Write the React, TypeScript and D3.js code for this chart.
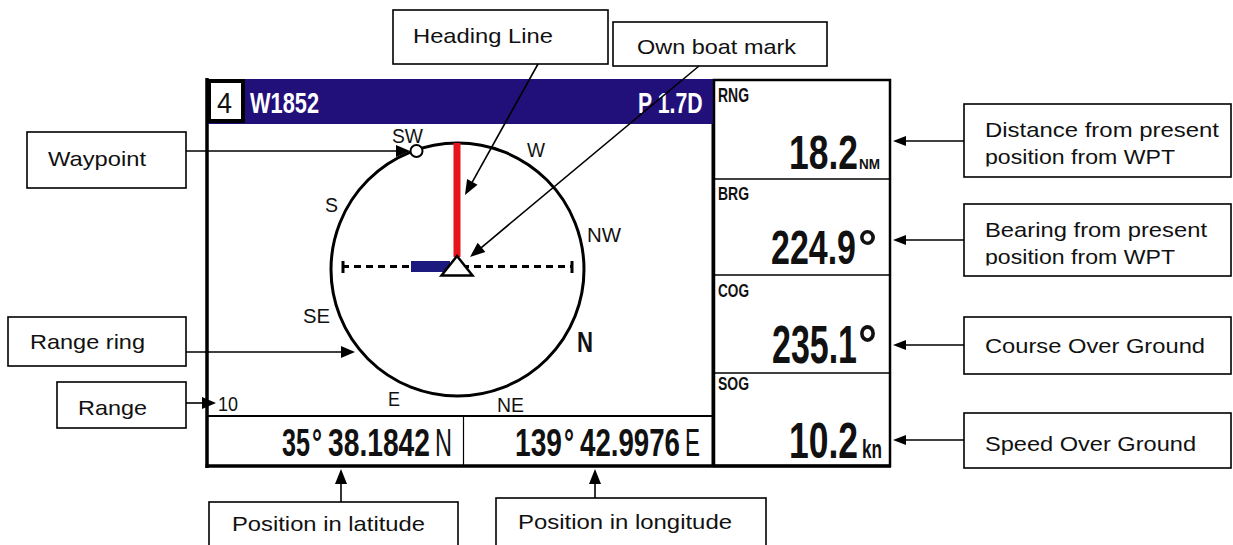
import React from "react";
import * as d3 from "d3";

// ---------- content ----------
const compassPoints = ["SW", "W", "S", "NW", "SE", "N", "E", "NE"];
const rangeValue = "10";
const headerItems = ["4", "W1852", "P 1.7D"];
const readoutLabels = ["RNG", "BRG", "COG", "SOG"];
const readoutValues = ["18.2", "224.9", "235.1", "10.2"];
const readoutUnits = ["NM", "°", "°", "kn"];
const latitudeParts = ["35", "°", "38.1842", "N"];
const longitudeParts = ["139", "°", "42.9976", "E"];
const leftCallouts = ["Waypoint", "Range ring", "Range"];
const topCallouts = ["Heading Line", "Own boat mark"];
const rightCallouts = [
  ["Distance from present", "position from WPT"],
  ["Bearing from present", "position from WPT"],
  ["Course Over Ground"],
  ["Speed Over Ground"],
];
const bottomCallouts = ["Position in latitude", "Position in longitude"];

// ---------- layout ----------
const W = 1233;
const H = 545;
const NAVY = "#22107a";
const RED = "#e8141b";
const FONT = "'Liberation Sans', Arial, Helvetica, sans-serif";
const INK = "#111";
const CALL_SIZE = 21;
const CAP = 0.716;

const measureCtx: CanvasRenderingContext2D | null =
  typeof document !== "undefined" ? document.createElement("canvas").getContext("2d") : null;

function naturalWidth(text: string, bold: boolean): number {
  if (!measureCtx) return text.length * 55;
  measureCtx.font = `${bold ? "bold " : ""}100px ${FONT}`;
  return measureCtx.measureText(text).width;
}

// condensed text: fits width w exactly, with cap height ch, by scaling vertically
function Cond(props: { x: number; y: number; text: string; w: number; ch: number; bold?: boolean; fill?: string }) {
  const { x, y, text, w, ch, bold, fill } = props;
  const nw = naturalWidth(text, !!bold);
  const fs = (100 * w) / nw;
  const sy = ch / (CAP * fs);
  return (
    <text
      transform={`translate(${x},${y}) scale(1,${sy.toFixed(4)})`}
      fontSize={fs.toFixed(3)}
      fontFamily={FONT}
      fontWeight={bold ? "bold" : "normal"}
      fill={fill || INK}
    >
      {text}
    </text>
  );
}

function CText(props: {
  x: number; y: number; text: string; size: number; w?: number;
  bold?: boolean; fill?: string;
}) {
  const { x, y, text, size, w, bold, fill } = props;
  return (
    <text
      x={x}
      y={y}
      fontSize={size}
      fontFamily={FONT}
      fontWeight={bold ? "bold" : "normal"}
      fill={fill || INK}
      {...(w ? { textLength: w, lengthAdjust: "spacingAndGlyphs" } : {})}
    >
      {text}
    </text>
  );
}

function Arrow(props: { x1: number; y1: number; x2: number; y2: number; head?: number; half?: number; sw?: number }) {
  const { x1, y1, x2, y2 } = props;
  const head = props.head ?? 13;
  const half = props.half ?? 5.5;
  const dx = x2 - x1, dy = y2 - y1;
  const L = Math.hypot(dx, dy);
  const ux = dx / L, uy = dy / L;
  const bx = x2 - ux * head, by = y2 - uy * head;
  const px = -uy, py = ux;
  const line = d3.line()([[x1, y1], [bx + ux * 1, by + uy * 1]]) || "";
  const tri = d3.line()([
    [x2, y2],
    [bx + px * half, by + py * half],
    [bx - px * half, by - py * half],
  ]) + "Z";
  return (
    <g>
      <path d={line} stroke="#000" strokeWidth={props.sw ?? 1.6} fill="none" />
      <path d={tri} fill="#000" />
    </g>
  );
}

const compassLayout = [
  { x: 392, y: 143, size: 20, w: 31 },
  { x: 527, y: 157, size: 20, w: 18 },
  { x: 325, y: 212, size: 20, w: 13 },
  { x: 587, y: 242, size: 20, w: 34 },
  { x: 303, y: 323, size: 20, w: 27 },
  { x: 577, y: 352, size: 29, w: 16, bold: true },
  { x: 388, y: 406, size: 20, w: 12 },
  { x: 497, y: 412, size: 20, w: 27 },
];

const center = { x: 457.5, y: 269.5 };
const ringR = 126.5;
const rScale = d3.scaleLinear().domain([0, 1]).range([0, ringR]);

export default function App() {
  const leftBoxes = [
    { x: 27, y: 132, w: 159, h: 56, tx: 48, ty: 166, tw: 98 },
    { x: 8, y: 317, w: 178, h: 49, tx: 30, ty: 349, tw: 115 },
    { x: 57, y: 382, w: 129, h: 46, tx: 78, ty: 415, tw: 69 },
  ];
  const leftArrows = [
    { y: 151, x2: 410 },
    { y: 352, x2: 355 },
    { y: 403, x2: 216 },
  ];
  const topBoxes = [
    { x: 393, y: 10, w: 215, h: 54, tx: 413, ty: 43, tw: 140 },
    { x: 613, y: 22, w: 214, h: 44, tx: 637, ty: 54, tw: 159 },
  ];
  const rightBoxes = [
    { y: 104, h: 73, ty: [137, 164], tw: [234, 190], clip: 166.5 },
    { y: 204, h: 72, ty: [236.5, 263.5], tw: [222, 190], clip: 265.5 },
    { y: 317, h: 57, ty: [353], tw: [220], clip: 999 },
    { y: 413, h: 55, ty: [451], tw: [211], clip: 999 },
  ];
  const rightArrowY = [141, 240, 345, 440];
  const bottomBoxes = [
    { x: 209, y: 502, w: 249, tx: 232, ty: 531, tw: 193, ax: 341 },
    { x: 496, y: 498, w: 270, tx: 518, ty: 529, tw: 214, ax: 595 },
  ];

  const cellTops = [80, 179, 275, 373];
  const labelLayout = [
    { w: 31, ch: 14, y: 102 },
    { w: 31, ch: 13, y: 200 },
    { w: 31, ch: 13, y: 297 },
    { w: 31, ch: 13, y: 390 },
  ];
  const valueLayout = [
    { x: 789, w: 69, y: 169, ch: 35, ux: 859, uw: 21, uch: 11 },
    { x: 771, w: 85, y: 264, ch: 35, ux: 858, uw: 19, uch: 35 },
    { x: 772, w: 85, y: 363, ch: 38, ux: 858, uw: 19, uch: 38 },
    { x: 789, w: 69, y: 458, ch: 36, ux: 862, uw: 20, uch: 18 },
  ];

  const posLayoutLat = [
    { x: 282, w: 28, bold: true },
    { x: 312, w: 10, bold: true },
    { x: 328, w: 102, bold: true },
    { x: 435, w: 17, bold: false },
  ];
  const posLayoutLon = [
    { x: 515, w: 47, bold: true },
    { x: 564, w: 10, bold: true },
    { x: 580, w: 100, bold: true },
    { x: 685, w: 15, bold: false },
  ];

  return (
    <svg
      width={W}
      height={H}
      viewBox={`0 0 ${W} ${H}`}
      style={{ position: "absolute", left: 0, top: 0, background: "#fff" }}
    >
      <defs>
        {rightBoxes.map((b, i) => (
          <clipPath id={`clipR${i}`} key={i}>
            <rect x={964} y={b.y} width={270} height={Math.min(b.clip, b.y + b.h) - b.y} />
          </clipPath>
        ))}
      </defs>
      <rect x={0} y={0} width={W} height={H} fill="#fff" />

      {/* ===== display: left panel ===== */}
      <rect x={207} y={79} width={506} height={45} fill={NAVY} />
      <rect x={209} y={81} width={34} height={40} fill="#fff" stroke="#000" strokeWidth={4} />
      <Cond x={217} y={113} text={headerItems[0]} w={15} ch={21} />
      <Cond x={250} y={113} text={headerItems[1]} w={69} ch={21} bold fill="#fff" />
      <Cond x={638} y={113} text={headerItems[2]} w={65} ch={21} bold fill="#fff" />

      {/* lat/lon row */}
      <line x1={207} y1={416} x2={713} y2={416} stroke="#000" strokeWidth={2} />
      <line x1={463.5} y1={416} x2={463.5} y2={466} stroke="#000" strokeWidth={1.2} />
      {latitudeParts.map((t, i) => (
        <Cond key={"lat" + i} x={posLayoutLat[i].x} y={456} text={t} w={posLayoutLat[i].w} ch={28} bold={posLayoutLat[i].bold} />
      ))}
      {longitudeParts.map((t, i) => (
        <Cond key={"lon" + i} x={posLayoutLon[i].x} y={456} text={t} w={posLayoutLon[i].w} ch={28} bold={posLayoutLon[i].bold} />
      ))}

      {/* compass */}
      <circle cx={center.x} cy={center.y} r={rScale(1)} fill="none" stroke="#000" strokeWidth={3} />
      {compassPoints.map((p, i) => {
        const c = compassLayout[i];
        return c.bold ? (
          <Cond key={p} x={c.x} y={c.y} text={p} w={c.w} ch={21} bold />
        ) : (
          <CText key={p} x={c.x} y={c.y} text={p} size={c.size} w={c.w} />
        );
      })}
      <CText x={218} y={411} text={rangeValue} size={20} w={20} />

      <line x1={342} y1={266.5} x2={573} y2={266.5} stroke="#000" strokeWidth={3} strokeDasharray="7,5" />
      <line x1={343} y1={261} x2={343} y2={273} stroke="#000" strokeWidth={3} />
      <line x1={572} y1={261} x2={572} y2={273} stroke="#000" strokeWidth={3} />
      <rect x={411} y={261} width={39} height={11} fill="#1c1a7e" />
      <rect x={453.5} y={143} width={7} height={114} fill={RED} />
      <path d={(d3.line()([[457, 256], [472.5, 275.5], [441.5, 275.5]]) || "") + "Z"} fill="#fff" stroke="#000" strokeWidth={2.5} strokeLinejoin="miter" />
      <circle cx={416.5} cy={151} r={6} fill="#fff" stroke="#000" strokeWidth={2} />

      {/* ===== right panel ===== */}
      <rect x={714} y={80} width={176} height={386} fill="#fff" stroke="#000" strokeWidth={2.5} />
      {cellTops.slice(1).map((y, i) => (
        <line key={i} x1={714} y1={y} x2={890} y2={y} stroke="#000" strokeWidth={1.5} />
      ))}
      {readoutLabels.map((l, i) => (
        <Cond key={l} x={718} y={labelLayout[i].y} text={l} w={labelLayout[i].w} ch={labelLayout[i].ch} bold />
      ))}
      {readoutValues.map((v, i) => {
        const L = valueLayout[i];
        return (
          <g key={v}>
            <Cond x={L.x} y={L.y} text={v} w={L.w} ch={L.ch} bold />
            <Cond x={L.ux} y={L.y} text={readoutUnits[i]} w={L.uw} ch={L.uch} bold />
          </g>
        );
      })}

      <line x1={207} y1={78} x2={207} y2={468} stroke="#000" strokeWidth={3.5} />
      <line x1={205.5} y1={466} x2={891} y2={466} stroke="#000" strokeWidth={3.5} />
      <line x1={712.5} y1={124} x2={712.5} y2={466} stroke="#000" strokeWidth={2} />

      {/* ===== callouts ===== */}
      {leftBoxes.map((b, i) => (
        <g key={"lb" + i}>
          <rect x={b.x} y={b.y} width={b.w} height={b.h} fill="#fff" stroke="#000" strokeWidth={1.6} />
          <CText x={b.tx} y={b.ty} text={leftCallouts[i]} size={CALL_SIZE} w={b.tw} />
        </g>
      ))}
      {leftArrows.map((a, i) => (
        <Arrow key={"la" + i} x1={186} y1={a.y} x2={a.x2} y2={a.y} head={14} half={6} />
      ))}

      {topBoxes.map((b, i) => (
        <g key={"tb" + i}>
          <rect x={b.x} y={b.y} width={b.w} height={b.h} fill="#fff" stroke="#000" strokeWidth={1.6} />
          <CText x={b.tx} y={b.ty} text={topCallouts[i]} size={CALL_SIZE} w={b.tw} />
        </g>
      ))}
      <Arrow x1={538} y1={64} x2={465} y2={195} head={15} half={6} />
      <Arrow x1={699} y1={66} x2={470} y2={257} head={15} half={6} />

      {rightBoxes.map((b, i) => (
        <g key={"rb" + i}>
          <rect x={964} y={b.y} width={267} height={b.h} fill="#fff" stroke="#000" strokeWidth={1.6} />
          <g clipPath={`url(#clipR${i})`}>
            {rightCallouts[i].map((t, j) => (
              <CText key={j} x={985} y={b.ty[j]} text={t} size={CALL_SIZE} w={b.tw[j]} />
            ))}
          </g>
        </g>
      ))}
      {rightArrowY.map((y, i) => (
        <Arrow key={"ra" + i} x1={964} y1={y} x2={893} y2={y} head={13} half={5} />
      ))}

      {bottomBoxes.map((b, i) => (
        <g key={"bb" + i}>
          <rect x={b.x} y={b.y} width={b.w} height={80} fill="#fff" stroke="#000" strokeWidth={1.6} />
          <CText x={b.tx} y={b.ty} text={bottomCallouts[i]} size={CALL_SIZE} w={b.tw} />
          <Arrow x1={b.ax} y1={b.y} x2={b.ax} y2={469} head={15} half={6} />
        </g>
      ))}
    </svg>
  );
}
